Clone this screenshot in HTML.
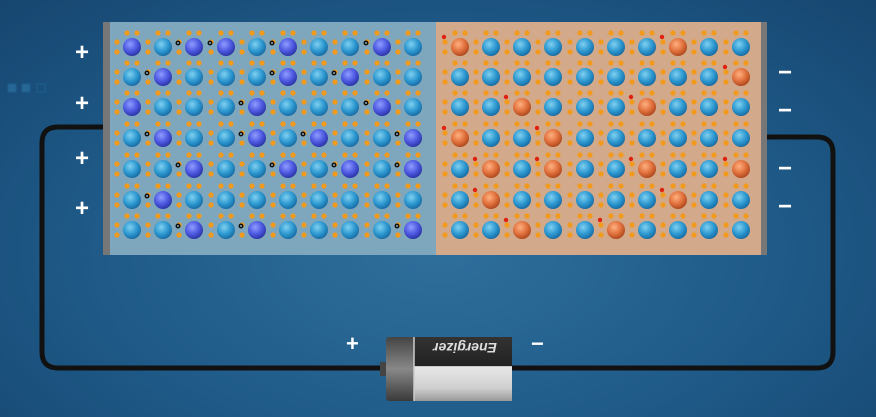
<!DOCTYPE html>
<html><head><meta charset="utf-8"><style>
html,body{margin:0;padding:0;width:876px;height:417px;overflow:hidden}
body{background:radial-gradient(ellipse at 50% 60%,#2f6f9c 0%,#1f5a88 55%,#164670 100%);font-family:"Liberation Sans",sans-serif;position:relative}
.sign{position:absolute;color:#fff;font-weight:bold;font-size:24px;line-height:1}
</style></head><body>
<svg width="876" height="417" style="position:absolute;left:0;top:0">
<defs>
<radialGradient id="gb" cx="40%" cy="35%" r="65%"><stop offset="0" stop-color="#7fd0f0"/><stop offset="0.6" stop-color="#2d98d0"/><stop offset="1" stop-color="#1a6ea6"/></radialGradient>
<radialGradient id="gp" cx="40%" cy="35%" r="65%"><stop offset="0" stop-color="#8f9cff"/><stop offset="0.6" stop-color="#4c58e0"/><stop offset="1" stop-color="#2e36a8"/></radialGradient>
<radialGradient id="go" cx="40%" cy="35%" r="65%"><stop offset="0" stop-color="#ffb080"/><stop offset="0.6" stop-color="#e0703c"/><stop offset="1" stop-color="#b04a20"/></radialGradient>
<linearGradient id="bat" x1="0" y1="0" x2="0" y2="1"><stop offset="0" stop-color="#333"/><stop offset="0.45" stop-color="#222"/><stop offset="0.46" stop-color="#e8e8e8"/><stop offset="0.8" stop-color="#cfcfcf"/><stop offset="1" stop-color="#999"/></linearGradient>
<linearGradient id="cap" x1="0" y1="0" x2="0" y2="1"><stop offset="0" stop-color="#444"/><stop offset="0.5" stop-color="#888"/><stop offset="1" stop-color="#3a3a3a"/></linearGradient>
</defs>
<g fill="none" stroke="#1e6a9c" stroke-width="1" opacity="0.6">
<rect x="8" y="84" width="8" height="8" fill="#2e78a8"/><rect x="22" y="84" width="8" height="8" fill="#2e78a8"/><rect x="37" y="84" width="8" height="8"/>
</g>
<path d="M105 127 H58 Q42 127 42 143 V352 Q42 368 58 368 H385" fill="none" stroke="#111" stroke-width="5"/>
<path d="M505 368 H817 Q833 368 833 352 V153 Q833 137 817 137 H765" fill="none" stroke="#111" stroke-width="5"/>
<rect x="103" y="22" width="333" height="233" fill="#7ea7bd"/>
<rect x="436" y="22" width="331" height="233" fill="#d2a98a"/>
<rect x="103" y="22" width="7" height="233" fill="#777"/>
<rect x="761" y="22" width="6" height="233" fill="#777"/>
<g id="lattice"></g>
<g>
<rect x="380" y="362" width="8" height="14" fill="#444"/>
<rect x="386" y="337" width="30" height="64" rx="3" fill="url(#cap)"/>
<rect x="414" y="337" width="98" height="64" fill="url(#bat)"/>
<line x1="414" y1="337" x2="414" y2="401" stroke="#ccc" stroke-width="1.5"/>
<text x="465" y="351" transform="rotate(180 465 347)" fill="#ddd" font-size="14" font-weight="bold" font-style="italic" text-anchor="middle">Energizer</text>
</g>
</svg>
<div class="sign" style="left:75px;top:41px">+</div>
<div class="sign" style="left:75px;top:92px">+</div>
<div class="sign" style="left:75px;top:147px">+</div>
<div class="sign" style="left:75px;top:197px">+</div>
<div class="sign" style="left:778px;top:61px">−</div>
<div class="sign" style="left:778px;top:99px">−</div>
<div class="sign" style="left:778px;top:157px">−</div>
<div class="sign" style="left:778px;top:195px">−</div>
<div class="sign" style="left:346px;top:333px;font-size:22px">+</div>
<div class="sign" style="left:531px;top:333px;font-size:22px">−</div>
<script>
const rowsY=[47,77,107,138,169,200,230];
const colsX=[132,163,194,226,257,288,319,350,382,413,460,491,522,553,585,616,647,678,709,741];
const pattern=[
"P.PP.P..P.O......O..",
".P...P.P...........O",
"P...P...P...O...O...",
".P..P.P..PO..O......",
"..P..P.P.P.O.O..O..O",
".P.........O.....O..",
"..P.P....P..O..O...."];
const ns='http://www.w3.org/2000/svg';
const g=document.getElementById('lattice');
function c(x,y,r,f){const e=document.createElementNS(ns,'circle');e.setAttribute('cx',x);e.setAttribute('cy',y);e.setAttribute('r',r);e.setAttribute('fill',f);g.appendChild(e);return e;}
rowsY.forEach((y,ri)=>{colsX.forEach((x,ci)=>{
 [[-5,-14],[5,-14],[-15,-5],[-15,5]].forEach(d=>c(x+d[0],y+d[1],2.6,'#f29a1c'));
 const k=(pattern[ri]||'')[ci]||'.';
 const f=k==='P'?'url(#gp)':(k==='O'?'url(#go)':'url(#gb)');
 const a=c(x,y,9,f);
 
 
 if(x<430&&k==='P'&&ci>0){c(x-16,y-4,2.5,'#111');c(x-16,y-4,1,'#8ab');}
 if(x>440&&k==='O'){c(x-16,y-10,2.2,'#e02010');}
});});
</script>
</body></html>
